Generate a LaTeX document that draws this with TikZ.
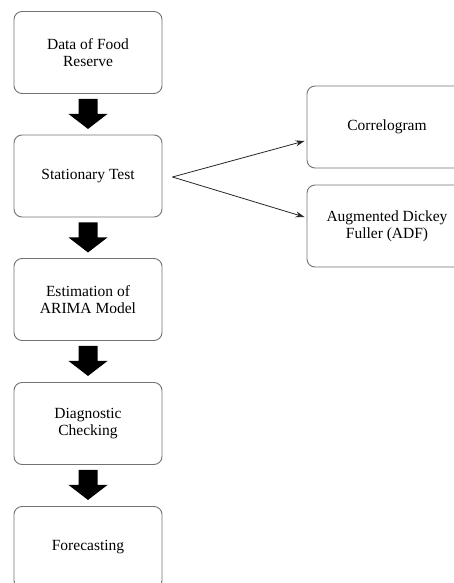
\documentclass[tikz,border=0pt]{standalone}
\usepackage{fontspec}
\setmainfont{Liberation Serif}
\usetikzlibrary{calc,arrows.meta}
\tikzset{
  box/.style={draw=black!55, line width=0.9pt, rounded corners=8pt, fill=white,
    minimum width=148pt, minimum height=82pt, inner sep=0pt, align=center,
    font=\fontsize{15.5}{17}\selectfont},
  rbox/.style={box, minimum width=160pt},
  link/.style={draw=black!85, line width=0.8pt, -{Stealth[length=9pt,width=6pt]}},
  bigarrow/.style={fill=black}
}
\newcommand\thickdown[1]{\path[bigarrow] ($(#1.south)+(-9.5,5)$) -- ++(19,0) -- ++(0,15) -- ++(10,0) -- ++(-19.5,15) -- ++(-19.5,-15) -- ++(10,0) -- cycle;}
\begin{document}
\begin{tikzpicture}[x=1pt,y=-1pt]
\useasboundingbox (0,0) rectangle (454,583);
\clip (0,0) rectangle (454,583);
\node[box] (b1) at (88,52.5) {Data of Food\\Reserve};
\node[box] (b2) at (88,176) {Stationary Test};
\node[box] (b3) at (88,299.5) {Estimation of\\ARIMA Model};
\node[box] (b4) at (88,423.5) {Diagnostic\\Checking};
\node[box] (b5) at (88,547.5) {Forecasting};
\node[rbox] (c1) at (387,127) {Correlogram};
\node[rbox] (c2) at (387,226) {Augmented Dickey\\Fuller (ADF)};
\thickdown{b1}
\thickdown{b2}
\thickdown{b3}
\thickdown{b4}
\coordinate (fork) at ($(b2.east)+(10,1)$);
\draw[link] (fork) -- ($(c1.west)+(-2,14)$);
\draw[link] (fork) -- ($(c2.west)+(-2,-9)$);
\end{tikzpicture}
\end{document}
